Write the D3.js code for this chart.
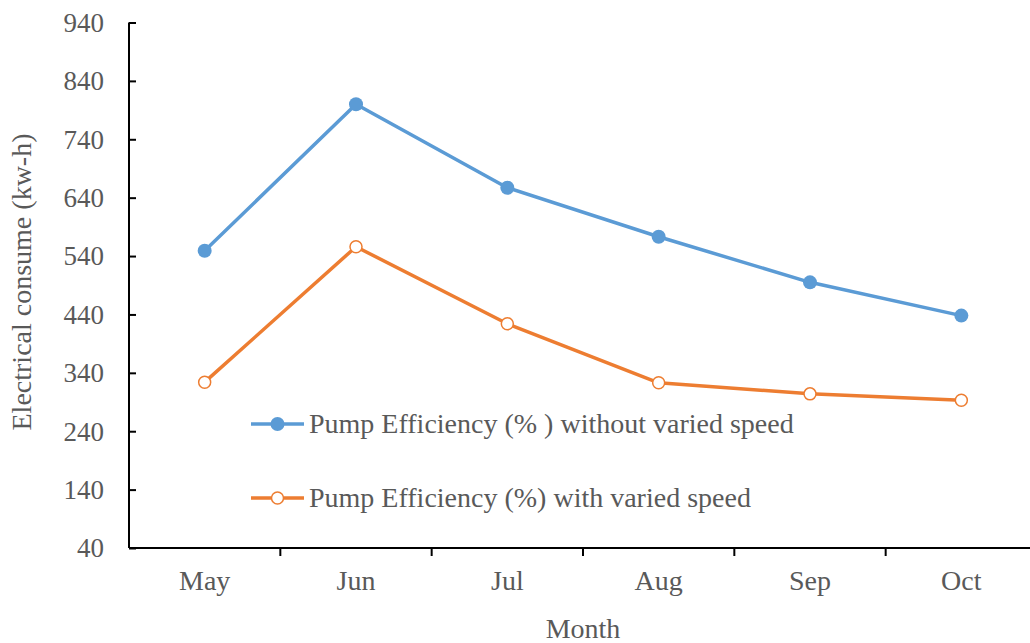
<!DOCTYPE html>
<html><head><meta charset="utf-8">
<script src="https://cdn.jsdelivr.net/npm/d3@7"></script>
<style>body{margin:0;background:#fff}svg{display:block}</style>
</head><body>
<svg id="c" width="1030" height="643"></svg>
<script>
const months = ["May","Jun","Jul","Aug","Sep","Oct"];
const withoutVaried = [549, 800, 657, 573, 495, 438];
const withVaried = [324, 556, 424, 323, 304, 293];
const yTicks = [40,140,240,340,440,540,640,740,840,940];
const seriesNames = ["Pump Efficiency (% ) without varied speed","Pump Efficiency (%) with varied speed"];

const svg = d3.select("#c");
const font = "'Liberation Serif','Times New Roman',serif";
const textColor = "#595959";
const fs = 28;
const m = {left:129, right:1037, top:22.5, bottom:548};

const x = d3.scaleBand().domain(months).range([m.left, m.right]);
const y = d3.scaleLinear().domain([40,940]).range([m.bottom, m.top]);

// y axis
const ya = svg.append("g").attr("transform",`translate(${m.left},0)`)
  .call(d3.axisRight(y).tickValues(yTicks).tickSize(7).tickFormat(d3.format("d")));
ya.select(".domain").attr("stroke","#000").attr("stroke-width",2).attr("d",`M0,${m.top}V${m.bottom}`);
ya.selectAll(".tick line").attr("stroke","#000").attr("stroke-width",2);
ya.selectAll(".tick text").attr("x",-25).attr("text-anchor","end")
  .attr("font-family",font).attr("font-size",27).attr("fill",textColor).attr("dy","0.33em");

// x axis
const xa = svg.append("g").attr("transform",`translate(0,${m.bottom})`)
  .call(d3.axisBottom(x).tickSize(0).tickPadding(0));
xa.select(".domain").attr("stroke","#000").attr("stroke-width",2).attr("d",`M${m.left},0H${m.right}`);
xa.selectAll(".tick text").attr("y",42).attr("dy",0)
  .attr("font-family",font).attr("font-size",fs).attr("fill",textColor);
// boundary ticks
xa.selectAll(".bt").data(months.slice(1)).enter().append("line")
  .attr("x1",d=>x(d)).attr("x2",d=>x(d)).attr("y1",0).attr("y2",8)
  .attr("stroke","#000").attr("stroke-width",2);

const cx = d => x(d) + x.bandwidth()/2;
const line = d3.line().x((d,i)=>cx(months[i])).y(d=>y(d));

const blue = "#5B9BD5", orange = "#ED7D31";

svg.append("path").datum(withoutVaried).attr("d",line).attr("fill","none")
  .attr("stroke",blue).attr("stroke-width",3.5).attr("stroke-linejoin","round");
svg.selectAll(".pb").data(withoutVaried).enter().append("circle")
  .attr("cx",(d,i)=>cx(months[i])).attr("cy",d=>y(d)).attr("r",7).attr("fill",blue);

svg.append("path").datum(withVaried).attr("d",line).attr("fill","none")
  .attr("stroke",orange).attr("stroke-width",3.5).attr("stroke-linejoin","round");
svg.selectAll(".po").data(withVaried).enter().append("circle")
  .attr("cx",(d,i)=>cx(months[i])).attr("cy",d=>y(d)).attr("r",6).attr("fill","#fff")
  .attr("stroke",orange).attr("stroke-width",1.5);

// legend
const leg = [{c:blue, filled:true, y:424},{c:orange, filled:false, y:498}];
leg.forEach((l,i)=>{
  const g = svg.append("g");
  g.append("line").attr("x1",251).attr("x2",304).attr("y1",l.y).attr("y2",l.y)
    .attr("stroke",l.c).attr("stroke-width",3.5);
  g.append("circle").attr("cx",277.5).attr("cy",l.y).attr("r",l.filled?7:6)
    .attr("fill",l.filled?l.c:"#fff").attr("stroke",l.filled?"none":l.c).attr("stroke-width",1.5);
  g.append("text").attr("x",309).attr("y",l.y+9).text(seriesNames[i])
    .attr("font-family",font).attr("font-size",fs).attr("fill",textColor);
});

// axis titles
svg.append("text").attr("transform","translate(31,282) rotate(-90)").attr("text-anchor","middle")
  .attr("font-family",font).attr("font-size",fs).attr("fill",textColor).text("Electrical consume (kw-h)");
svg.append("text").attr("x",583).attr("y",638).attr("text-anchor","middle")
  .attr("font-family",font).attr("font-size",fs).attr("fill",textColor).text("Month");
</script>
</body></html>
